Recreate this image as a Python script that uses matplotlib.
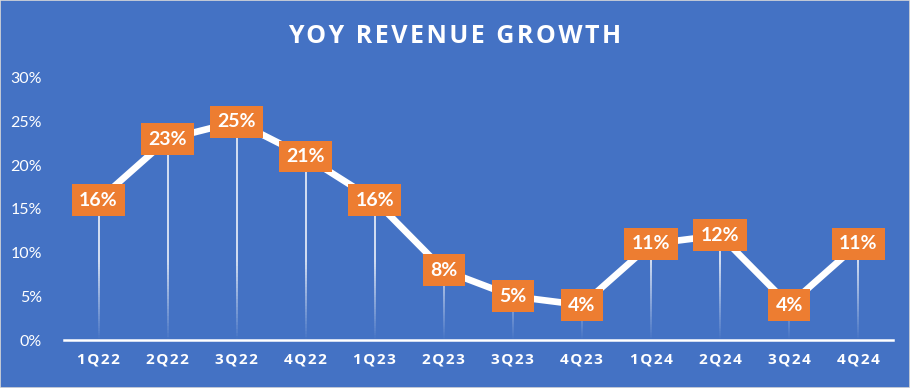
import numpy as np
import matplotlib
matplotlib.use("Agg")
import matplotlib.pyplot as plt
from matplotlib.collections import LineCollection
from matplotlib.patches import Rectangle

quarters = ['1Q22', '2Q22', '3Q22', '4Q22', '1Q23', '2Q23',
            '3Q23', '4Q23', '1Q24', '2Q24', '3Q24', '4Q24']
growth = [16, 23, 25, 21, 16, 8, 5, 4, 11, 12, 4, 11]
yticks = [0, 5, 10, 15, 20, 25, 30]

blue = '#4472C4'
orange = '#ED7D31'

plt.rcParams['font.family'] = ['Lato', 'DejaVu Sans']


def spaced(s):
    # widen letter spacing a little with hair spaces
    return '\u200a'.join(s)


fig = plt.figure(figsize=(9.1, 3.88), dpi=100, facecolor=blue)
ax = fig.add_axes([0.0703, 0.1237, 0.9107, 0.6753])
ax.set_facecolor(blue)

x = np.arange(len(quarters))

# drop lines, fading toward the axis
segs, cols = [], []
for xi, v in zip(x, growth):
    ys = np.linspace(0, v, 60)
    for a, b in zip(ys[:-1], ys[1:]):
        segs.append([(xi, a), (xi, b)])
        alpha = min(1.0, max(0.0, (a + b) / 2 / 9.0))
        cols.append((1, 1, 1, 0.9 * alpha))
ax.add_collection(LineCollection(segs, colors=cols, linewidths=1.2, zorder=1))

# main line
ax.plot(x, growth, color='white', linewidth=4.8, solid_capstyle='butt', zorder=2)

# data labels
for xi, v in zip(x, growth):
    ax.text(xi, v, f'{v}%', ha='center', va='center', color='white',
            fontsize=14, fontweight='bold', zorder=4, clip_on=False,
            bbox=dict(boxstyle='square,pad=0.38', facecolor=orange, edgecolor='none'))

ax.set_xlim(-0.5, len(quarters) - 0.5)
ax.set_ylim(0, 30)
ax.set_yticks(yticks)
ax.set_yticklabels([f'{t}%' for t in yticks])
ax.set_xticks(x)
ax.set_xticklabels([spaced(q) for q in quarters], fontweight='bold',
                   family=['Open Sans', 'DejaVu Sans'])
ax.tick_params(axis='y', length=0, pad=16, labelcolor='white', labelsize=11.5)
ax.tick_params(axis='x', length=0, pad=9, labelcolor='white', labelsize=11)

for side in ['top', 'right', 'left']:
    ax.spines[side].set_visible(False)
ax.spines['bottom'].set_color('white')
ax.spines['bottom'].set_linewidth(1.8)

fig.text(0.5, 0.905, spaced('YOY REVENUE GROWTH'), ha='center', va='center',
         color='white', fontsize=18, fontweight='bold',
         family=['Open Sans', 'DejaVu Sans'])

# thin frame round the chart
fig.patches.append(Rectangle((0, 0), 1, 1, transform=fig.transFigure,
                             facecolor='none', edgecolor='#d9d9d9', linewidth=1.2))

fig.savefig('out.png', dpi=100, facecolor=blue)
